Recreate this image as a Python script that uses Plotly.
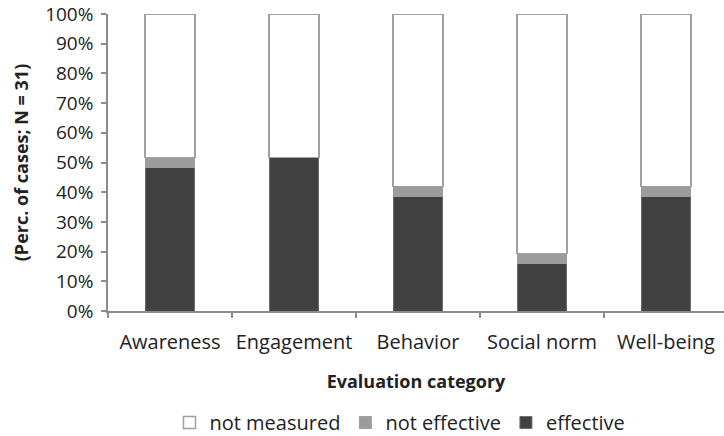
import plotly.graph_objects as go

# Evaluation outcomes per category (counts out of N = 31 cases)
categories = ["Awareness", "Engagement", "Behavior", "Social norm", "Well-being"]
n_cases = 31
effective_counts = [15, 16, 12, 5, 12]
not_effective_counts = [1, 0, 1, 1, 1]

effective = [c / n_cases * 100 for c in effective_counts]
not_effective = [c / n_cases * 100 for c in not_effective_counts]
not_measured = [100 - e - ne for e, ne in zip(effective, not_effective)]

font_family = "Open Sans, Liberation Sans, sans-serif"
text_color = "#222222"
axis_color = "#8c8c8c"

fig = go.Figure()
fig.add_trace(go.Bar(
    x=categories, y=effective, name="effective", width=0.4,
    marker=dict(color="#414141", line=dict(color="#6a6a6a", width=1)),
))
fig.add_trace(go.Bar(
    x=categories, y=not_effective, name="not effective", width=0.4,
    marker=dict(color="#9c9c9c", line=dict(color="#9c9c9c", width=1)),
))
fig.add_trace(go.Bar(
    x=categories, y=not_measured, name="not measured", width=0.4,
    marker=dict(color="#ffffff", line=dict(color="#a0a0a0", width=1.5)),
))

fig.update_layout(
    barmode="stack",
    width=724, height=436,
    margin=dict(l=108, r=0, t=14, b=125, autoexpand=False),
    paper_bgcolor="white", plot_bgcolor="white",
    font=dict(family=font_family, color=text_color),
    showlegend=True,
    legend=dict(
        orientation="h", x=0.474, xanchor="center", y=-0.31, yanchor="top",
        traceorder="reversed", font=dict(size=20, color=text_color),
        itemwidth=30,
    ),
    xaxis=dict(
        range=[-0.5, 4.468], automargin=False,
        showline=True, linecolor=axis_color, linewidth=1.5,
        ticks="outside", tickson="boundaries", ticklen=5,
        tickcolor=axis_color, tickwidth=1.5,
        tickangle=0,
        tickfont=dict(size=20, color=text_color),
        ticklabelstandoff=12,
        title=dict(text="<b>Evaluation category</b>", font=dict(size=18, color=text_color), standoff=22),
        showgrid=False,
    ),
    yaxis=dict(
        range=[0, 100], dtick=10, ticksuffix="%", automargin=False,
        showline=True, linecolor=axis_color, linewidth=1.5,
        ticks="outside", ticklen=5, tickcolor=axis_color, tickwidth=1.5,
        tickfont=dict(size=19, color=text_color),
        ticklabelstandoff=4,
        title=dict(text="<b>(Perc. of cases; N = 31)</b>", font=dict(size=18, color=text_color), standoff=12),
        showgrid=False, zeroline=False,
    ),
)

fig.write_html("out.html")
